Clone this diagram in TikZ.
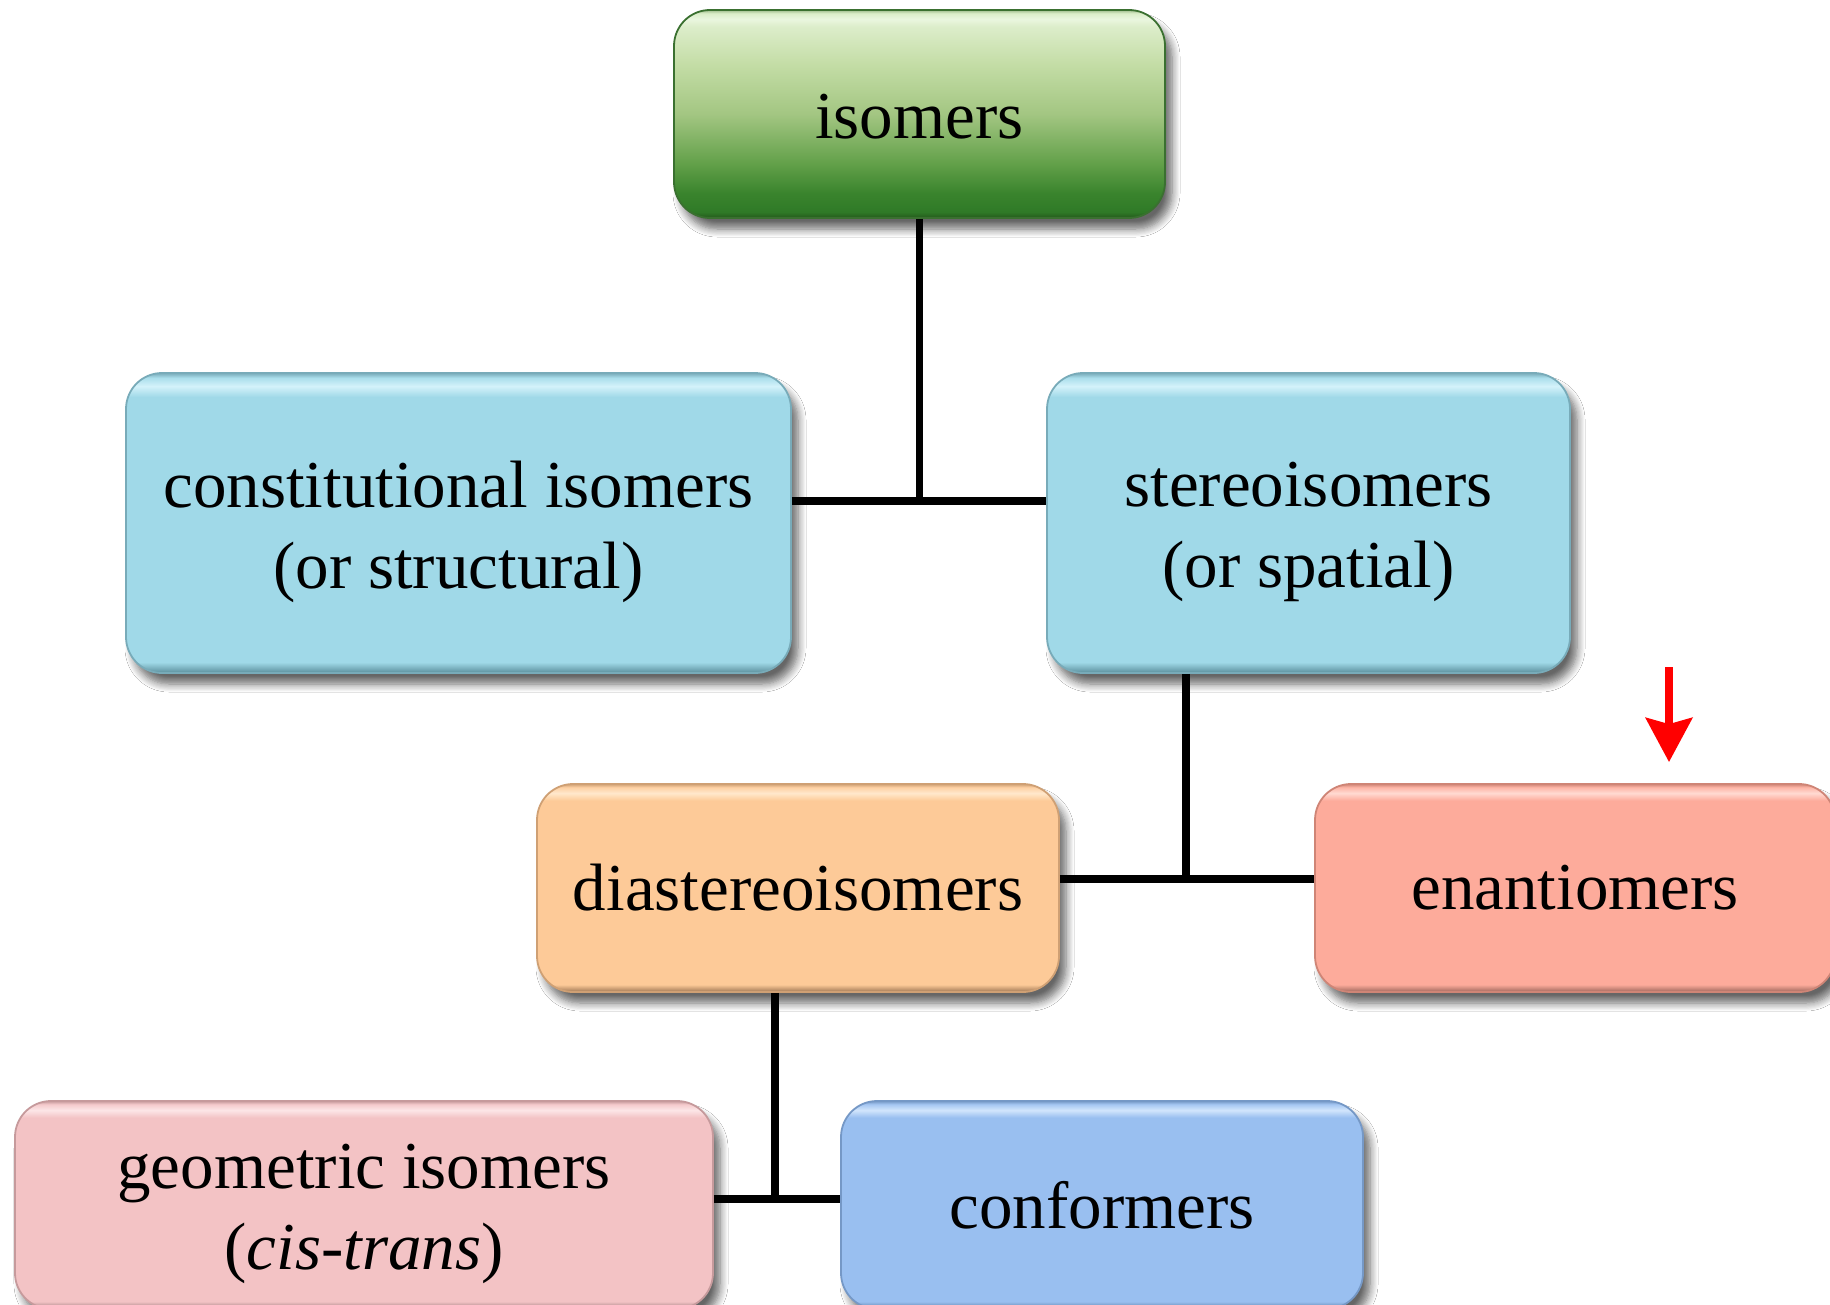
\documentclass[tikz,border=0pt]{standalone}
\usepackage{fontspec}
\setmainfont{Liberation Serif}
\usetikzlibrary{arrows.meta,shadows.blur}

% box colours: body, highlight, rim, edge
\definecolor{cyanbody}{HTML}{A0D9E8}\definecolor{cyanhi}{HTML}{D4F2FA}\definecolor{cyanrim}{HTML}{5A8E9B}\definecolor{cyanedge}{HTML}{78ABB9}
\definecolor{orangebody}{HTML}{FDCA98}\definecolor{orangehi}{HTML}{FFE8CC}\definecolor{orangerim}{HTML}{9E7653}\definecolor{orangeedge}{HTML}{CFA074}
\definecolor{salmonbody}{HTML}{FDAB9B}\definecolor{salmonhi}{HTML}{FFDAD2}\definecolor{salmonrim}{HTML}{9E675C}\definecolor{salmonedge}{HTML}{CF8576}
\definecolor{pinkbody}{HTML}{F3C3C5}\definecolor{pinkhi}{HTML}{FCE6E7}\definecolor{pinkrim}{HTML}{977678}\definecolor{pinkedge}{HTML}{C69A9C}
\definecolor{bluebody}{HTML}{99BFF0}\definecolor{bluehi}{HTML}{D2E5FC}\definecolor{bluerim}{HTML}{5A7BA5}\definecolor{blueedge}{HTML}{7598C6}
\definecolor{greenedge}{HTML}{3A7030}
\definecolor{greenrim}{HTML}{245A1C}
\definecolor{greenA}{HTML}{2F7A27}
\definecolor{greenB}{HTML}{3A842D}
\definecolor{greenC}{HTML}{62A049}
\definecolor{greenD}{HTML}{A3C682}
\definecolor{greenE}{HTML}{C4DDA6}
\definecolor{greenF}{HTML}{DCEDCA}
\definecolor{greenG}{HTML}{EAF6DF}
\definecolor{greenH}{HTML}{DAEDC8}
\definecolor{greenI}{HTML}{9DBB8C}
\definecolor{arrowred}{HTML}{FF0000}

% vertical bevel: dark rim at the bottom, bright line just under the top edge
\newcommand{\mkbevel}[1]{%
  \pgfdeclareverticalshading{#1bevel}{100bp}{%
    color(0bp)=(#1rim); color(25bp)=(#1rim); color(26.8bp)=(#1body);
    color(71bp)=(#1body); color(72.8bp)=(#1hi); color(74.2bp)=(#1body!80!#1hi);
    color(75bp)=(#1edge); color(100bp)=(#1edge)}}
\mkbevel{cyan}\mkbevel{orange}\mkbevel{salmon}\mkbevel{pink}\mkbevel{blue}

% green gradient of the root box
\pgfdeclareverticalshading{greenbevel}{100bp}{%
  color(0bp)=(greenrim); color(25bp)=(greenrim);
  color(26.5bp)=(greenA); color(31bp)=(greenB); color(38bp)=(greenC);
  color(50bp)=(greenD); color(62bp)=(greenE); color(71bp)=(greenF);
  color(72.8bp)=(greenG); color(74.2bp)=(greenH); color(75bp)=(greenI);
  color(100bp)=(greenI)}

\tikzset{
  tbox/.style={draw=#1edge, line width=0.9pt, rounded corners=18pt, shading=#1bevel,
    inner sep=0pt,
    blur shadow={shadow xshift=3.5pt, shadow yshift=-5.5pt, shadow blur radius=4pt,
      shadow blur steps=8, shadow opacity=60}},
  lbl/.style={align=center, inner sep=0pt, font=\fontsize{33.5pt}{40.5pt}\selectfont},
  link/.style={line width=3.6pt, black},
  pointer/.style={line width=4.3pt, arrowred, -{Stealth[length=22pt, width=23pt, inset=3pt]}},
}

\begin{document}
\begin{tikzpicture}[x=0.5pt, y=-0.5pt]
  \fill[white] (0,0) rectangle (1830,1305);
  \useasboundingbox (0,0) rectangle (1830,1305);

  % boxes
  \node[tbox=green, minimum width=245.5pt, minimum height=104pt] (iso) at (919.5,114) {};
  \node[tbox=cyan, minimum width=332.5pt, minimum height=150pt] (con) at (458.5,523) {};
  \node[tbox=cyan, minimum width=261.5pt, minimum height=150pt] (ste) at (1308.5,523) {};
  \node[tbox=orange, minimum width=261pt, minimum height=104pt] (dia) at (798,888) {};
  \node[tbox=salmon, minimum width=260pt, minimum height=104pt] (ena) at (1575,888) {};
  \node[tbox=pink, minimum width=349pt, minimum height=104pt] (geo) at (364,1205) {};
  \node[tbox=blue, minimum width=261pt, minimum height=104pt] (cnf) at (1102,1205) {};

  % box texts
  \node[lbl] (iso-text) at ([yshift=-1.5pt]iso.center) {isomers};
  \node[lbl] (con-text) at ([yshift=-4.5pt]con.center) {constitutional isomers\\(or structural)};
  \node[lbl] (ste-text) at ([yshift=-4.5pt]ste.center) {stereoisomers\\(or spatial)};
  \node[lbl] (dia-text) at (dia.center) {diastereoisomers};
  \node[lbl] (ena-text) at (ena.center) {enantiomers};
  \node[lbl] (geo-text) at ([yshift=-4.5pt]geo.center) {geometric isomers\\(\textit{cis-trans})};
  \node[lbl] (cnf-text) at (cnf.center) {conformers};

  % junctions of the tree
  \coordinate (j1) at (919.5,501);
  \coordinate (j2) at (1186,879);
  \coordinate (j3) at (775,1199);

  \draw[link] (iso) -- (j1);
  \draw[link] (con.east |- j1) -- (ste.west |- j1);
  \draw[link] (ste.south -| j2) -- (j2);
  \draw[link] (dia.east |- j2) -- (ena.west |- j2);
  \draw[link] (dia.south -| j3) -- (j3);
  \draw[link] (geo.east |- j3) -- (cnf.west |- j3);

  % red marker above the enantiomers box
  \coordinate (mark) at (1669,667);
  \draw[pointer, shorten >=10.5pt] (mark) -- (mark |- ena.north);
\end{tikzpicture}
\end{document}
